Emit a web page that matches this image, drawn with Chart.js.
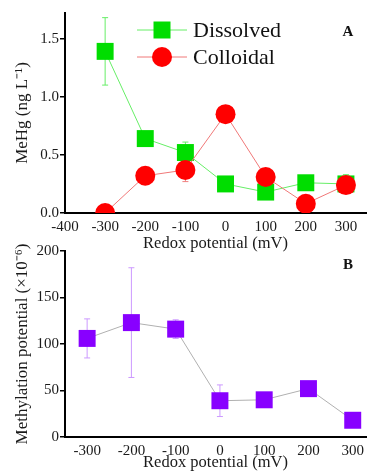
<!DOCTYPE html>
<html>
<head>
<meta charset="utf-8">
<script src="https://cdn.jsdelivr.net/npm/chart.js@4.4.0/dist/chart.umd.min.js"></script>
<style>
  html, body { margin: 0; padding: 0; background: #fff; }
  #wrap { position: relative; width: 378px; height: 473px; overflow: hidden; }
  #chartA { position: absolute; left: 0; top: 0; }
  #chartB { position: absolute; left: 0; top: 225px; }
</style>
</head>
<body>
<div id="wrap">
  <canvas id="chartA" width="378" height="254"></canvas>
  <canvas id="chartB" width="378" height="248"></canvas>
</div>
<script>
// Data
const redox = [-300, -200, -100, 0, 100, 200, 300];

// Panel A: MeHg (ng L-1)
const dissolved = [1.39, 0.64, 0.52, 0.25, 0.18, 0.26, 0.25];
const dissolvedErr = [0.29, 0.02, 0.09, 0.02, 0.02, 0.02, 0.08];
const colloidal = [0.0, 0.32, 0.37, 0.85, 0.31, 0.08, 0.24];
const colloidalErr = [0.0, 0.02, 0.10, 0.03, 0.04, 0.02, 0.04];
const xTicksA = [-400, -300, -200, -100, 0, 100, 200, 300];
const yTicksA = [0, 0.5, 1.0, 1.5];

// Panel B: methylation potential (x10-6)
const methylation = [106, 123, 116, 39, 40, 52, 18];
const methylationErr = [21, 59, 10, 17, 3, 3, 3];
const xTicksB = [-300, -200, -100, 0, 100, 200, 300];
const yTicksB = [0, 50, 100, 150, 200];

const serif = "'Liberation Serif', 'Times New Roman', serif";
const tickColor = '#1a1a1a';

function points(ys) {
    return redox.map((x, i) => ({ x: x, y: ys[i] }));
}

// Error bars drawn through the chart scales
const errorBars = {
    id: 'errorBars',
    beforeDatasetsDraw(chart) {
        const ctx = chart.ctx;
        const xs = chart.scales.x, ys = chart.scales.y;
        chart.data.datasets.forEach(ds => {
            if (!ds.errors) return;
            ctx.save();
            ctx.strokeStyle = ds.errorColor;
            ctx.lineWidth = 1;
            ds.data.forEach((p, i) => {
                const e = ds.errors[i];
                if (!e) return;
                const px = xs.getPixelForValue(p.x);
                const top = ys.getPixelForValue(p.y + e);
                const bot = ys.getPixelForValue(p.y - e);
                ctx.beginPath();
                ctx.moveTo(px, top); ctx.lineTo(px, bot);
                ctx.moveTo(px - 3, top); ctx.lineTo(px + 3, top);
                ctx.moveTo(px - 3, bot); ctx.lineTo(px + 3, bot);
                ctx.stroke();
            });
            ctx.restore();
        });
    }
};

// Panel letter + legend drawn inside chart area
const extras = {
    id: 'extras',
    afterDraw(chart, args, opts) {
        const ctx = chart.ctx;
        ctx.save();
        ctx.fillStyle = '#111';
        ctx.font = 'bold 15px ' + serif;
        ctx.textAlign = 'center';
        ctx.textBaseline = 'middle';
        ctx.fillText(opts.letter, opts.letterX, opts.letterY);
        if (opts.legend) {
            chart.data.datasets.forEach((ds, i) => {
                const y = 30 + i * 27;
                ctx.strokeStyle = ds.borderColor;
                ctx.lineWidth = 1;
                ctx.beginPath();
                ctx.moveTo(137, y); ctx.lineTo(187, y);
                ctx.stroke();
                ctx.fillStyle = ds.pointBackgroundColor;
                ctx.beginPath();
                if (ds.pointStyle === 'rect') {
                    ctx.rect(153.5, y - 8.5, 17, 17);
                } else {
                    ctx.arc(162, y, 10, 0, Math.PI * 2);
                }
                ctx.fill();
                ctx.fillStyle = '#111';
                ctx.font = '22px ' + serif;
                ctx.textAlign = 'left';
                ctx.fillText(ds.label, 193, y + 1);
            });
        }
        ctx.restore();
    }
};

function axisY(ticks, fmt, title, titlePad) {
    return {
        type: 'linear',
        min: ticks[0],
        afterBuildTicks: s => { s.ticks = ticks.map(v => ({ value: v })); },
        afterFit: s => { s.width = 65 - titlePad; },
        grid: { display: true, drawOnChartArea: false, drawTicks: true, tickLength: 5, color: '#000', lineWidth: 1.5 },
        border: { display: true, color: '#000', width: 2 },
        ticks: { font: { family: serif, size: 15 }, color: tickColor, padding: 1, callback: fmt },
        title: { display: true, text: title, font: { family: serif, size: 17 }, color: tickColor, padding: { top: 0, bottom: 0 } }
    };
}

function axisX(ticks, min, max, height) {
    return {
        type: 'linear',
        min: min,
        max: max,
        afterBuildTicks: s => { s.ticks = ticks.map(v => ({ value: v })); },
        afterFit: s => { s.height = height; },
        grid: { display: false, drawTicks: false },
        border: { display: true, color: '#000', width: 2 },
        ticks: { font: { family: serif, size: 15 }, color: tickColor, padding: 5, maxRotation: 0, autoSkip: false },
        title: { display: true, text: 'Redox potential (mV)', font: { family: serif, size: 16.5 }, color: tickColor, padding: { top: 0, bottom: 0 } }
    };
}

// Panel A
const yA = axisY(yTicksA, v => v.toFixed(1), 'MeHg (ng L\u207B\u00B9)', 12);
yA.max = 1.72;
new Chart(document.getElementById('chartA').getContext('2d'), {
    type: 'line',
    data: {
        datasets: [{
            label: 'Dissolved',
            data: points(dissolved),
            errors: dissolvedErr,
            errorColor: '#66ee66',
            borderColor: '#66ee66',
            borderWidth: 1,
            pointStyle: 'rect',
            pointRadius: 12,
            pointBackgroundColor: '#00dd00',
            pointBorderColor: '#00dd00',
            pointBorderWidth: 0,
            order: 1
        }, {
            label: 'Colloidal',
            data: points(colloidal),
            errors: colloidalErr,
            errorColor: '#f08080',
            borderColor: '#f07878',
            borderWidth: 1,
            pointStyle: 'circle',
            pointRadius: 10,
            pointBackgroundColor: '#ff0000',
            pointBorderColor: '#ff0000',
            pointBorderWidth: 0,
            order: 0
        }]
    },
    options: {
        responsive: false,
        animation: false,
        layout: { padding: { top: 13, right: 9, bottom: 0, left: 12 } },
        scales: {
            x: axisX(xTicksA, -400, 350, 41),
            y: yA
        },
        plugins: {
            legend: { display: false },
            tooltip: { enabled: false },
            extras: { letter: 'A', letterX: 348, letterY: 32, legend: true }
        }
    },
    plugins: [errorBars, extras]
});

// Panel B
const yB = axisY(yTicksB, v => v, 'Methylation potential (\u00D710\u207B\u2076)', 12);
yB.max = 200;
new Chart(document.getElementById('chartB').getContext('2d'), {
    type: 'line',
    data: {
        datasets: [{
            label: 'Methylation potential',
            data: points(methylation),
            errors: methylationErr,
            errorColor: '#cc99ff',
            borderColor: '#b0b0b0',
            borderWidth: 1,
            pointStyle: 'rect',
            pointRadius: 12,
            pointBackgroundColor: '#8800ff',
            pointBorderColor: '#8800ff',
            pointBorderWidth: 0
        }]
    },
    options: {
        responsive: false,
        animation: false,
        layout: { padding: { top: 26, right: 8, bottom: 0, left: 12 } },
        scales: {
            x: axisX(xTicksB, -350, 330, 36),
            y: yB
        },
        plugins: {
            legend: { display: false },
            tooltip: { enabled: false },
            extras: { letter: 'B', letterX: 348, letterY: 40, legend: false }
        }
    },
    plugins: [errorBars, extras]
});
</script>
</body>
</html>
